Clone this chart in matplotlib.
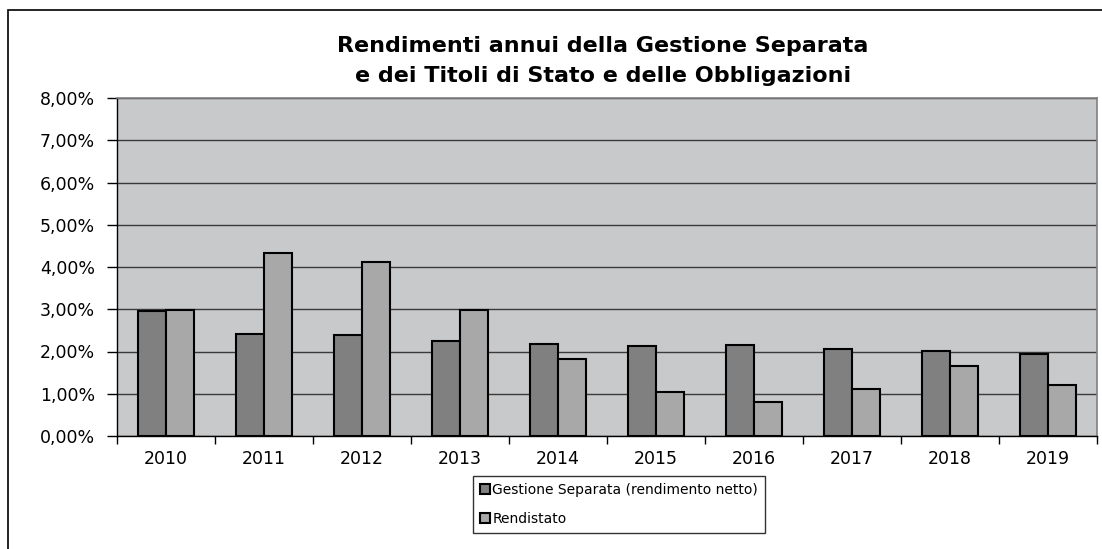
import matplotlib
matplotlib.use("Agg")
import matplotlib.pyplot as plt
import numpy as np
from matplotlib.patches import Rectangle
from matplotlib.ticker import FuncFormatter, FixedLocator

years = ["2010", "2011", "2012", "2013", "2014", "2015", "2016", "2017", "2018", "2019"]
gestione = [2.95, 2.42, 2.40, 2.24, 2.18, 2.14, 2.16, 2.05, 2.01, 1.95]
rendistato = [2.99, 4.34, 4.12, 2.99, 1.82, 1.04, 0.80, 1.11, 1.65, 1.20]
series_names = ["Gestione Separata (rendimento netto)", "Rendistato"]
title = "Rendimenti annui della Gestione Separata\ne dei Titoli di Stato e delle Obbligazioni"

fig = plt.figure(figsize=(11.02, 5.49), dpi=100)
fig.patch.set_facecolor("white")
# outer chart frame (cut at right/bottom edges)
fig.patches.append(Rectangle((8/1102, -0.05), 1.2, 1 - 10/549 + 0.05, transform=fig.transFigure,
                             fill=False, edgecolor="black", linewidth=1.2))

ax = fig.add_axes([117/1102, 1 - 436/549, (1097 - 117)/1102, (436 - 98)/549])
ax.set_facecolor("#c8c9cb")

x = np.arange(len(years))
w = 0.285
ax.bar(x - w/2, gestione, w, color="#808080", edgecolor="black", linewidth=1.5, label=series_names[0], zorder=3)
ax.bar(x + w/2, rendistato, w, color="#a8a8a8", edgecolor="black", linewidth=1.5, label=series_names[1], zorder=3)

ax.set_ylim(0, 8)
ax.set_xlim(-0.5, len(years) - 0.5)
ax.set_yticks(np.arange(0, 9, 1))
ax.yaxis.set_major_formatter(FuncFormatter(lambda v, p: f"{v:.2f}%".replace(".", ",")))
ax.grid(axis="y", color="#3a3a3a", linewidth=1.0, zorder=1)
ax.set_axisbelow(True)

ax.set_xticks(x)
ax.set_xticklabels(years)
ax.xaxis.set_minor_locator(FixedLocator(np.arange(-0.5, len(years), 1)))
ax.tick_params(axis="x", which="major", length=0, pad=10, labelsize=12.5)
ax.tick_params(axis="x", which="minor", length=6, width=1, direction="out")
ax.tick_params(axis="y", length=7, width=1, direction="out", labelsize=12.5, pad=9)

for s in ["top", "right"]:
    ax.spines[s].set_color("#808080")
    ax.spines[s].set_linewidth(1.2)
for s in ["left", "bottom"]:
    ax.spines[s].set_color("black")
    ax.spines[s].set_linewidth(1.0)

fig.text(603/1102, 1 - 61/549, title, ha="center", va="center", fontsize=16, fontweight="bold",
         family="DejaVu Sans", linespacing=1.6)

leg = fig.legend(loc="center", bbox_to_anchor=(619/1102, 1 - 504.5/549), ncol=1, frameon=True,
                 fancybox=False, edgecolor="black", fontsize=10, handlelength=0.7, handleheight=0.7,
                 handletextpad=0.2, labelspacing=1.05, borderpad=0.5)
leg.get_frame().set_linewidth(1.0)

fig.savefig("out.png", dpi=100)
